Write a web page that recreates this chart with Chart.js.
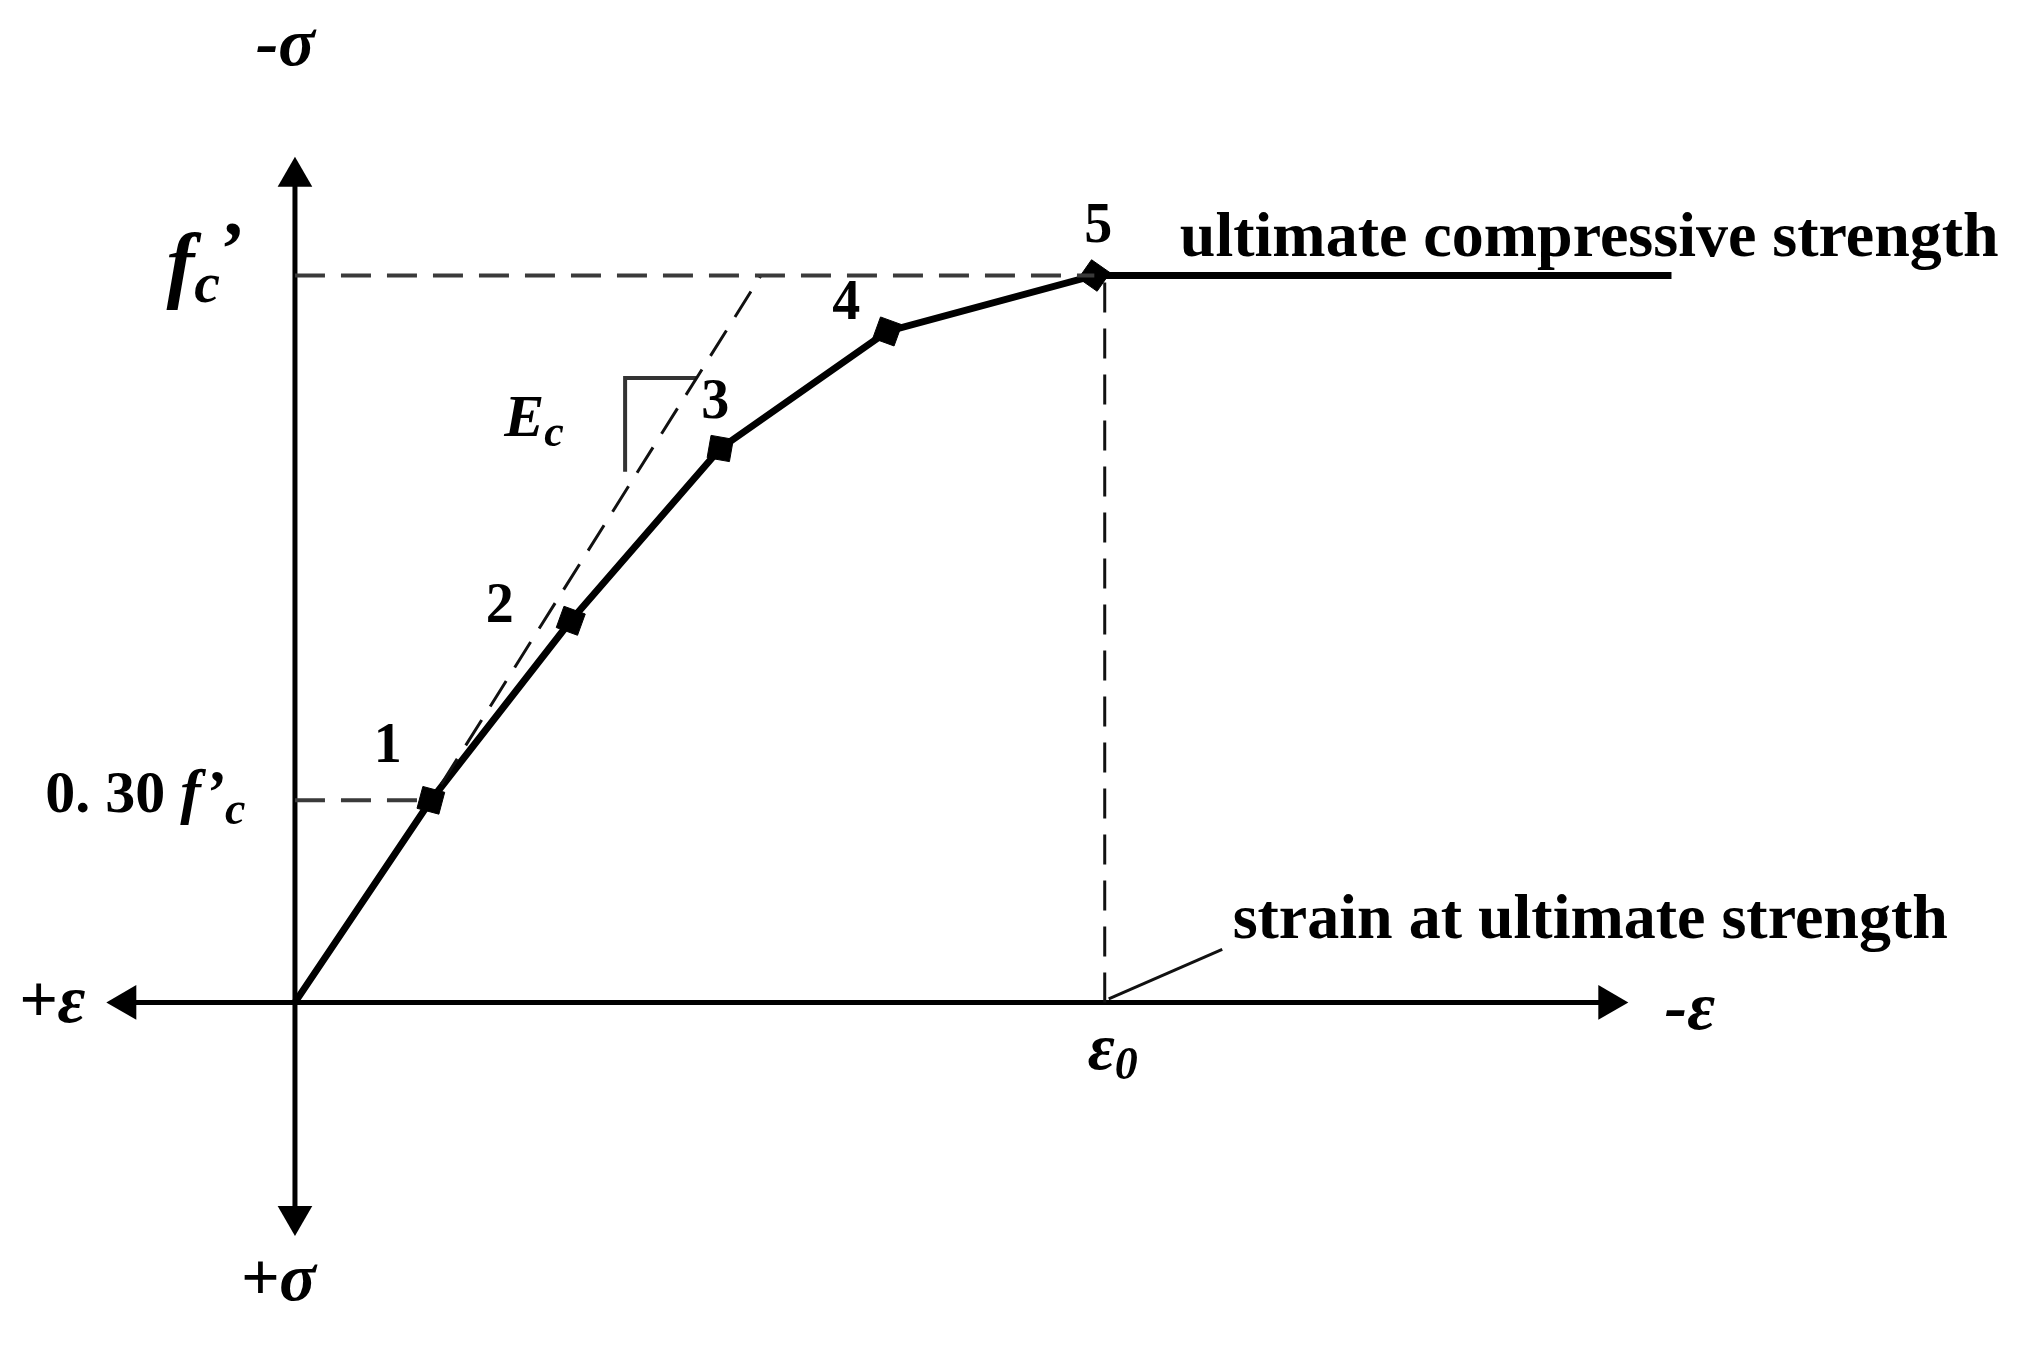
<!DOCTYPE html>
<html>
<head>
<meta charset="utf-8">
<script src="https://cdn.jsdelivr.net/npm/chart.js@4.4.1/dist/chart.umd.min.js"></script>
<style>
  html, body { margin: 0; padding: 0; background: #fff; }
  #wrap { width: 2028px; height: 1367px; }
</style>
</head>
<body>
<div id="wrap"><canvas id="chart"></canvas></div>
<script>
// strain is eps / eps0 (compression to the right), stress is sigma / fc' (compression up)
const curveStrain = [0, 0.170, 0.345, 0.532, 0.741, 1.0, 1.722];
const curveStress = [0, 0.278, 0.525, 0.762, 0.923, 1.0, 1.0];
const pointNames = ['', '1', '2', '3', '4', '5', ''];

const fcLevel = 1.0;          // fc'
const lowLevel = 0.278;       // 0.30 fc'
const eps0Strain = 1.013;     // eps0 marker line

const ecStrain = [0.183, 0.583];   // initial tangent Ec
const ecStress = [0.30, 1.0];
const slopeStrain = [0.413, 0.413, 0.502];
const slopeStress = [0.730, 0.859, 0.859];
const leaderStrain = [1.018, 1.160];
const leaderStress = [0.005, 0.073];

const xAxisEnds = [-0.211, 1.643];
const yAxisEnds = [-0.294, 1.136];

const SERIF = '"Liberation Serif", "DejaVu Serif", serif';
const f = (style, size) => style + ' ' + size + 'px ' + SERIF;

// text placed in data units; parts are [text, font, raise]
const notes = [
  { x: -0.012, y: 1.290, align: 'center', parts: [['-σ', f('italic bold', 68), 0]] },
  { x: -0.021, y: -0.409, align: 'center', parts: [['+σ', f('italic bold', 68), 0]] },
  { x: -0.304, y: -0.027, align: 'center', parts: [['+ε', f('italic bold', 68), 0]] },
  { x: 1.745, y: -0.036, align: 'center', parts: [['-ε', f('italic bold', 68), 0]] },
  { x: 1.023, y: -0.091, align: 'center', parts: [['ε', f('italic bold', 66), 0], ['0', f('italic bold', 46), -10]] },
  { x: -0.062, y: 0.977, align: 'right', parts: [['f', f('italic bold', 84), 0], ['c', f('italic bold', 58), -10], ['’', f('bold', 76), 18]] },
  { x: -0.062, y: 0.262, align: 'right', parts: [['0. 30 ', f('bold', 60), 0], ['f’', f('italic bold', 62), 0], ['c', f('italic bold', 46), -12]] },
  { x: 0.299, y: 0.779, align: 'center', parts: [['E', f('italic bold', 60), 0], ['c', f('italic bold', 44), -10]] },
  { x: 1.107, y: 1.027, align: 'left', parts: [['ultimate compressive strength', f('bold', 64), 0]] },
  { x: 1.173, y: 0.089, align: 'left', parts: [['strain at ultimate strength', f('bold', 64), 0]] }
];
// number tags next to the curve points, offset in px
const tagOffsets = [null, [-43, -53], [-71, -13], [-5, -45], [-41, -27], [4, -48], null];

const pts = (xs, ys) => xs.map((x, i) => ({ x: x, y: ys[i] }));

const notesPlugin = {
  id: 'notes',
  afterDatasetsDraw(chart) {
    const ctx = chart.ctx;
    const sx = chart.scales.x, sy = chart.scales.y;
    ctx.save();
    ctx.fillStyle = '#000';
    ctx.textBaseline = 'alphabetic';
    ctx.textAlign = 'left';
    notes.forEach(n => {
      let total = 0;
      n.parts.forEach(p => { ctx.font = p[1]; total += ctx.measureText(p[0]).width; });
      let px = sx.getPixelForValue(n.x);
      const py = sy.getPixelForValue(n.y);
      if (n.align === 'center') px -= total / 2;
      if (n.align === 'right') px -= total;
      n.parts.forEach(p => {
        ctx.font = p[1];
        ctx.fillText(p[0], px, py - p[2]);
        px += ctx.measureText(p[0]).width;
      });
    });
    ctx.textAlign = 'center';
    ctx.textBaseline = 'middle';
    ctx.font = f('bold', 56);
    pointNames.forEach((name, i) => {
      if (!name) return;
      const px = sx.getPixelForValue(curveStrain[i]) + tagOffsets[i][0];
      const py = sy.getPixelForValue(curveStress[i]) + tagOffsets[i][1];
      ctx.fillText(name, px, py);
    });
    ctx.restore();
  }
};

const dashed = (data, color, w) => ({
  data: data, borderColor: color, borderWidth: w, borderDash: [30, 16],
  pointRadius: 0, showLine: true, fill: false
});

new Chart(document.getElementById('chart'), {
  type: 'scatter',
  data: {
    datasets: [
      dashed([{ x: 0, y: fcLevel }, { x: curveStrain[5], y: fcLevel }], '#3a3a3a', 4),
      dashed([{ x: 0, y: lowLevel }, { x: curveStrain[1], y: lowLevel }], '#3a3a3a', 4),
      dashed([{ x: eps0Strain, y: 0 }, { x: eps0Strain, y: fcLevel }], '#111', 3),
      dashed(pts(ecStrain, ecStress), '#111', 3),
      { data: pts(slopeStrain, slopeStress), borderColor: '#333', borderWidth: 4, pointRadius: 0, showLine: true },
      { data: pts(leaderStrain, leaderStress), borderColor: '#111', borderWidth: 3, pointRadius: 0, showLine: true },
      {
        data: [{ x: xAxisEnds[0], y: 0 }, { x: xAxisEnds[1], y: 0 }],
        borderColor: '#000', backgroundColor: '#000', borderWidth: 5, showLine: true,
        pointStyle: 'triangle', pointRadius: 20, pointRotation: [270, 90], pointBorderWidth: 0
      },
      {
        data: [{ x: 0, y: yAxisEnds[0] }, { x: 0, y: yAxisEnds[1] }],
        borderColor: '#000', backgroundColor: '#000', borderWidth: 5, showLine: true,
        pointStyle: 'triangle', pointRadius: 20, pointRotation: [180, 0], pointBorderWidth: 0
      },
      {
        data: pts(curveStrain, curveStress),
        borderColor: '#000', backgroundColor: '#000', borderWidth: 7, showLine: true,
        pointStyle: 'rect', pointRadius: [0, 16, 16, 16, 16, 16, 0],
        pointRotation: [0, 15, 20, 10, 20, 35, 0], pointBorderWidth: 1
      }
    ]
  },
  options: {
    responsive: true,
    maintainAspectRatio: false,
    animation: false,
    layout: { padding: 0, autoPadding: false },
    plugins: { legend: { display: false }, tooltip: { enabled: false } },
    scales: {
      x: { type: 'linear', min: -0.369, max: 2.168, display: false },
      y: { type: 'linear', min: -0.5016, max: 1.379, display: false }
    }
  },
  plugins: [notesPlugin]
});
</script>
</body>
</html>
